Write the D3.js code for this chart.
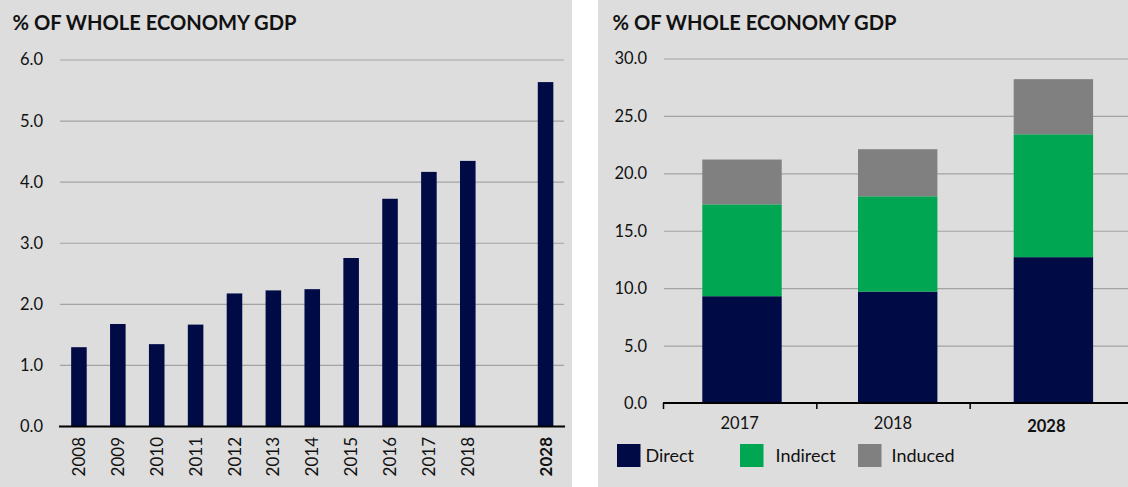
<!DOCTYPE html>
<html>
<head>
<meta charset="utf-8">
<script src="https://d3js.org/d3.v7.min.js"></script>
<style>
html,body{margin:0;padding:0;background:#fff;}
svg{display:block;}
text{font-family:Lato,"Open Sans",sans-serif;fill:#111;}
</style>
</head>
<body>
<svg id="chart" width="1128" height="487"></svg>
<script>
// ---------- data ----------
const chartTitle = "% OF WHOLE ECONOMY GDP";

// Left chart: total share of GDP by year ("" is the empty gap slot before 2028)
const leftYears = ["2008","2009","2010","2011","2012","2013","2014","2015","2016","2017","2018","","2028"];
const leftValues = [1.29,1.67,1.34,1.66,2.17,2.22,2.24,2.75,3.72,4.16,4.34,null,5.63];
const leftTicks = [0,1,2,3,4,5,6];

// Right chart: stacked contributions
const rightYears = ["2017","2018","2028"];
const directValues = [9.3,9.7,12.7];
const indirectValues = [8.0,8.3,10.7];
const inducedValues = [3.9,4.1,4.8];
const seriesNames = ["Direct","Indirect","Induced"];
const rightTicks = [0,5,10,15,20,25,30];
const boldYears = ["2028"];

// ---------- styles ----------
const bg = "#dddddd";
const navy = "#000a45";
const colors = {Direct: navy, Indirect: "#00a651", Induced: "#808080"};
const gridColor = "#a3a3a3";

const svg = d3.select("#chart");

// panels
svg.append("rect").attr("x",0).attr("y",0).attr("width",572).attr("height",487).attr("fill",bg);
svg.append("rect").attr("x",598).attr("y",0).attr("width",530).attr("height",487).attr("fill",bg);

// titles
[[12.5],[612.5]].forEach(([x])=>{
  svg.append("text").attr("x",x).attr("y",29.5)
    .attr("font-size",20).attr("font-weight",700)
    .attr("textLength",284).attr("lengthAdjust","spacingAndGlyphs")
    .text(chartTitle);
});

// ---------- left chart ----------
const yL = d3.scaleLinear().domain([0,6]).range([426,59.5]);
const xL = d3.scaleBand().domain(leftYears).range([59.5,565]).paddingInner(0.6).paddingOuter(0.3);

const gL = svg.append("g");
gL.append("g").selectAll("line").data(leftTicks.filter(d=>d>0)).join("line")
  .attr("x1",60).attr("x2",564).attr("y1",d=>yL(d)+0.5).attr("y2",d=>yL(d)+0.5)
  .attr("stroke",gridColor).attr("stroke-width",1.2);
gL.append("g").selectAll("text").data(leftTicks).join("text")
  .attr("x",43).attr("y",d=>yL(d)).attr("dy","0.36em")
  .attr("text-anchor","end").attr("font-size",16.5)
  .text(d=>d3.format(".1f")(d));
gL.append("g").selectAll("rect").data(leftYears.map((y,i)=>({y,v:leftValues[i]})).filter(d=>d.v!=null)).join("rect")
  .attr("x",d=>xL(d.y)).attr("width",xL.bandwidth())
  .attr("y",d=>yL(d.v)).attr("height",d=>yL(0)-yL(d.v))
  .attr("fill",navy);
gL.append("line").attr("x1",59).attr("x2",565).attr("y1",yL(0)+0.5).attr("y2",yL(0)+0.5)
  .attr("stroke","#000").attr("stroke-width",2);
gL.append("g").selectAll("text").data(leftYears.filter(d=>d!=="")).join("text")
  .attr("transform",d=>`translate(${xL(d)+xL.bandwidth()/2},${437}) rotate(-90)`)
  .attr("text-anchor","end").attr("dy","0.36em")
  .attr("font-size",17)
  .attr("font-weight",d=>boldYears.includes(d)?700:400)
  .text(d=>d);

// ---------- right chart ----------
const yR = d3.scaleLinear().domain([0,30]).range([403,58.5]);
const xAxisR = d3.scaleBand().domain(rightYears).range([663,1123]);
const xBarR = d3.scaleBand().domain(rightYears).range([663,1132.4]).paddingInner(0.49).paddingOuter(0.2524);

const gR = svg.append("g");
gR.append("g").selectAll("line").data(rightTicks.filter(d=>d>0)).join("line")
  .attr("x1",664).attr("x2",1128).attr("y1",d=>yR(d)+0.5).attr("y2",d=>yR(d)+0.5)
  .attr("stroke",gridColor).attr("stroke-width",1.2);
gR.append("g").selectAll("text").data(rightTicks).join("text")
  .attr("x",647).attr("y",d=>yR(d)).attr("dy","0.36em")
  .attr("text-anchor","end").attr("font-size",16.5)
  .text(d=>d3.format(".1f")(d));

const table = rightYears.map((y,i)=>({year:y, Direct:directValues[i], Indirect:indirectValues[i], Induced:inducedValues[i]}));
const stack = d3.stack().keys(seriesNames)(table);
gR.append("g").selectAll("g").data(stack).join("g")
  .attr("fill",d=>colors[d.key])
  .selectAll("rect").data(d=>d).join("rect")
  .attr("x",d=>xBarR(d.data.year)).attr("width",xBarR.bandwidth())
  .attr("y",d=>yR(d[1])).attr("height",d=>yR(d[0])-yR(d[1]));

gR.append("line").attr("x1",663).attr("x2",1128).attr("y1",yR(0)).attr("y2",yR(0))
  .attr("stroke","#000").attr("stroke-width",2);
gR.append("g").selectAll("line").data(rightYears).join("line")
  .attr("x1",d=>xAxisR(d)+0.5).attr("x2",d=>xAxisR(d)+0.5)
  .attr("y1",yR(0)).attr("y2",yR(0)+6)
  .attr("stroke","#000").attr("stroke-width",1.5);
gR.append("g").selectAll("text").data(rightYears).join("text")
  .attr("x",d=>xAxisR(d)+xAxisR.bandwidth()/2).attr("y",d=>boldYears.includes(d)?432:429)
  .attr("text-anchor","middle").attr("font-size",16.5)
  .attr("font-weight",d=>boldYears.includes(d)?700:400)
  .text(d=>d);

// legend
const legendX = [617,740,858];
const lg = gR.append("g").selectAll("g").data(seriesNames).join("g")
  .attr("transform",(d,i)=>`translate(${legendX[i]},444)`);
lg.append("rect").attr("width",23.5).attr("height",23).attr("fill",d=>colors[d]);
lg.append("text").attr("x",(d,i)=>[28.5,35.5,33.5][i]).attr("y",11.5).attr("dy","0.36em")
  .attr("font-size",18).text(d=>d);
</script>
</body>
</html>
